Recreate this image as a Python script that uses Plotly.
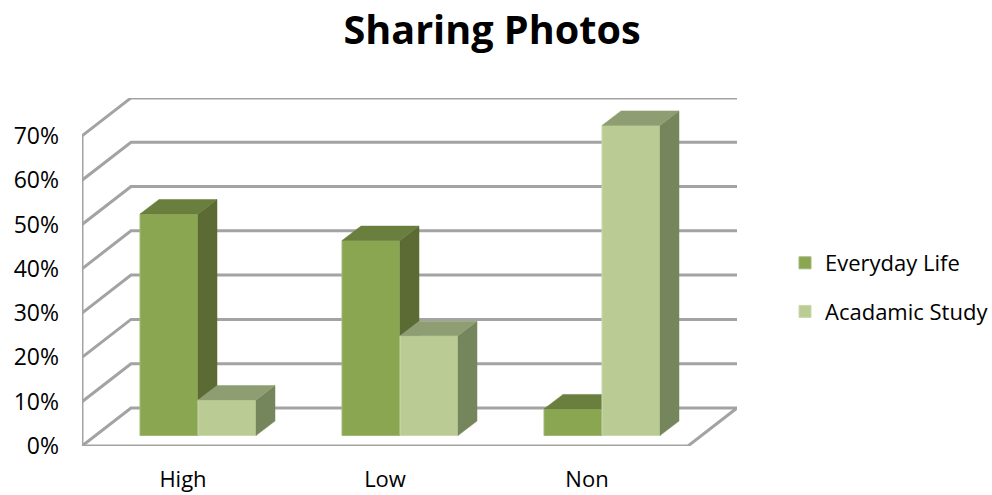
import plotly.graph_objects as go

categories = ["High", "Low", "Non"]
everyday_life = [50, 44, 6]
acadamic_study = [8, 22.5, 70]
y_ticks = [0, 10, 20, 30, 40, 50, 60, 70]
y_tick_labels = ["0%", "10%", "20%", "30%", "40%", "50%", "60%", "70%"]

# ---- pixel geometry of the oblique projection ----
L, R, T, B = 82, 737, 98, 446
PX_PER_CAT = 202.0
PX_PER_PCT = 4.43
WALL_DX, WALL_DY = 49 / PX_PER_CAT, 38 / PX_PER_PCT      # full floor depth
BAR_DX, BAR_DY = 19 / PX_PER_CAT, 14.5 / PX_PER_PCT      # bar depth
SHIFT_X, SHIFT_Y = 15 / PX_PER_CAT, 10.5 / PX_PER_PCT    # bar offset from the front edge
BAR_W = 58 / PX_PER_CAT

X0 = -0.5
X_FRONT_END = 2.5
x_range = [X0, X0 + (R - L) / PX_PER_CAT]
y_range = [0, (B - T) / PX_PER_PCT]

FONT = "Open Sans"
GRID = "#A3A3A3"
C_LIFE = dict(front="#8AA650", side="#5B6B33", top="#6A7F3E", edge="#A0B878")
C_STUDY = dict(front="#BACC94", side="#75855C", top="#8F9E72", edge="#CAD8AC")

fig = go.Figure()


def line(xs, ys):
    fig.add_trace(go.Scatter(x=xs, y=ys, mode="lines", hoverinfo="skip", showlegend=False,
                             cliponaxis=False, line=dict(color=GRID, width=3),
                             xaxis="x", yaxis="y"))


# back-wall lines and left-wall diagonals
for t in y_ticks:
    line([X0, X0 + WALL_DX, x_range[1]], [t, t + WALL_DY, t + WALL_DY])
# left wall vertical + floor
line([X0, X0, X_FRONT_END, X_FRONT_END + WALL_DX], [y_ticks[-1], 0, 0, WALL_DY])


def series(values, name, col, left_of_center, ax):
    xa, ya = ("x2", "y2") if ax == 2 else ("x3", "y3")
    lefts = [i + SHIFT_X - (BAR_W if left_of_center else 0) for i in range(len(values))]
    for x0, v in zip(lefts, values):
        y1 = SHIFT_Y + v
        x1 = x0 + BAR_W
        fig.add_trace(go.Scatter(
            x=[x1, x1 + BAR_DX, x1 + BAR_DX, x1, x1],
            y=[SHIFT_Y, SHIFT_Y + BAR_DY, y1 + BAR_DY, y1, SHIFT_Y],
            fill="toself", fillcolor=col["side"], mode="lines", line=dict(color=col["side"], width=0.5),
            hoverinfo="skip", showlegend=False, xaxis=xa, yaxis=ya, cliponaxis=False))
        fig.add_trace(go.Scatter(
            x=[x0, x0 + BAR_DX, x1 + BAR_DX, x1, x0],
            y=[y1, y1 + BAR_DY, y1 + BAR_DY, y1, y1],
            fill="toself", fillcolor=col["top"], mode="lines", line=dict(color=col["top"], width=0.5),
            hoverinfo="skip", showlegend=False, xaxis=xa, yaxis=ya, cliponaxis=False))
    fig.add_trace(go.Bar(
        x=[x + BAR_W / 2 for x in lefts], y=values, base=SHIFT_Y, width=BAR_W, name=name,
        marker=dict(color=col["front"], line=dict(color=col["edge"], width=1)),
        legendgroup=name, xaxis=xa, yaxis=ya))


series(everyday_life, "Everyday Life", C_LIFE, True, 2)
series(acadamic_study, "Acadamic Study", C_STUDY, False, 3)

hidden = dict(visible=False, fixedrange=True)
fig.update_layout(
    width=992, height=495, autosize=False,
    margin=dict(l=L, r=992 - R, t=T, b=495 - B, pad=0, autoexpand=False),
    paper_bgcolor="white", plot_bgcolor="white",
    font=dict(family=FONT, color="#000000", size=20),
    title=dict(text="<b>Sharing Photos</b>", x=492 / 992, xanchor="center", y=1 - 30 / 495,
               yanchor="middle", automargin=False, font=dict(family=FONT, size=39.6, color="#000000")),
    barmode="overlay",
    xaxis=dict(range=x_range, tickmode="array", tickvals=[0, 1, 2], ticktext=categories,
               showgrid=False, zeroline=False, showline=False, ticks="", ticklabelstandoff=18,
               automargin=False, tickfont=dict(size=22, family=FONT), fixedrange=True),
    yaxis=dict(range=y_range, tickmode="array", tickvals=y_ticks, ticktext=y_tick_labels,
               showgrid=False, zeroline=False, showline=False, ticks="", ticklabelstandoff=22,
               automargin=False, tickfont=dict(size=23, family=FONT), fixedrange=True),
    xaxis2=dict(range=x_range, overlaying="x", **hidden),
    yaxis2=dict(range=y_range, overlaying="y", **hidden),
    xaxis3=dict(range=x_range, overlaying="x", **hidden),
    yaxis3=dict(range=y_range, overlaying="y", **hidden),
    legend=dict(x=785 / 992, y=1 - 242 / 495, xref="container", yref="container",
                xanchor="left", yanchor="top", traceorder="grouped", tracegroupgap=17,
                font=dict(size=22, family=FONT), bgcolor="rgba(0,0,0,0)"),
)
fig.write_html("out.html", config=dict(displayModeBar=False),
               post_script="document.body.style.margin='0';")
